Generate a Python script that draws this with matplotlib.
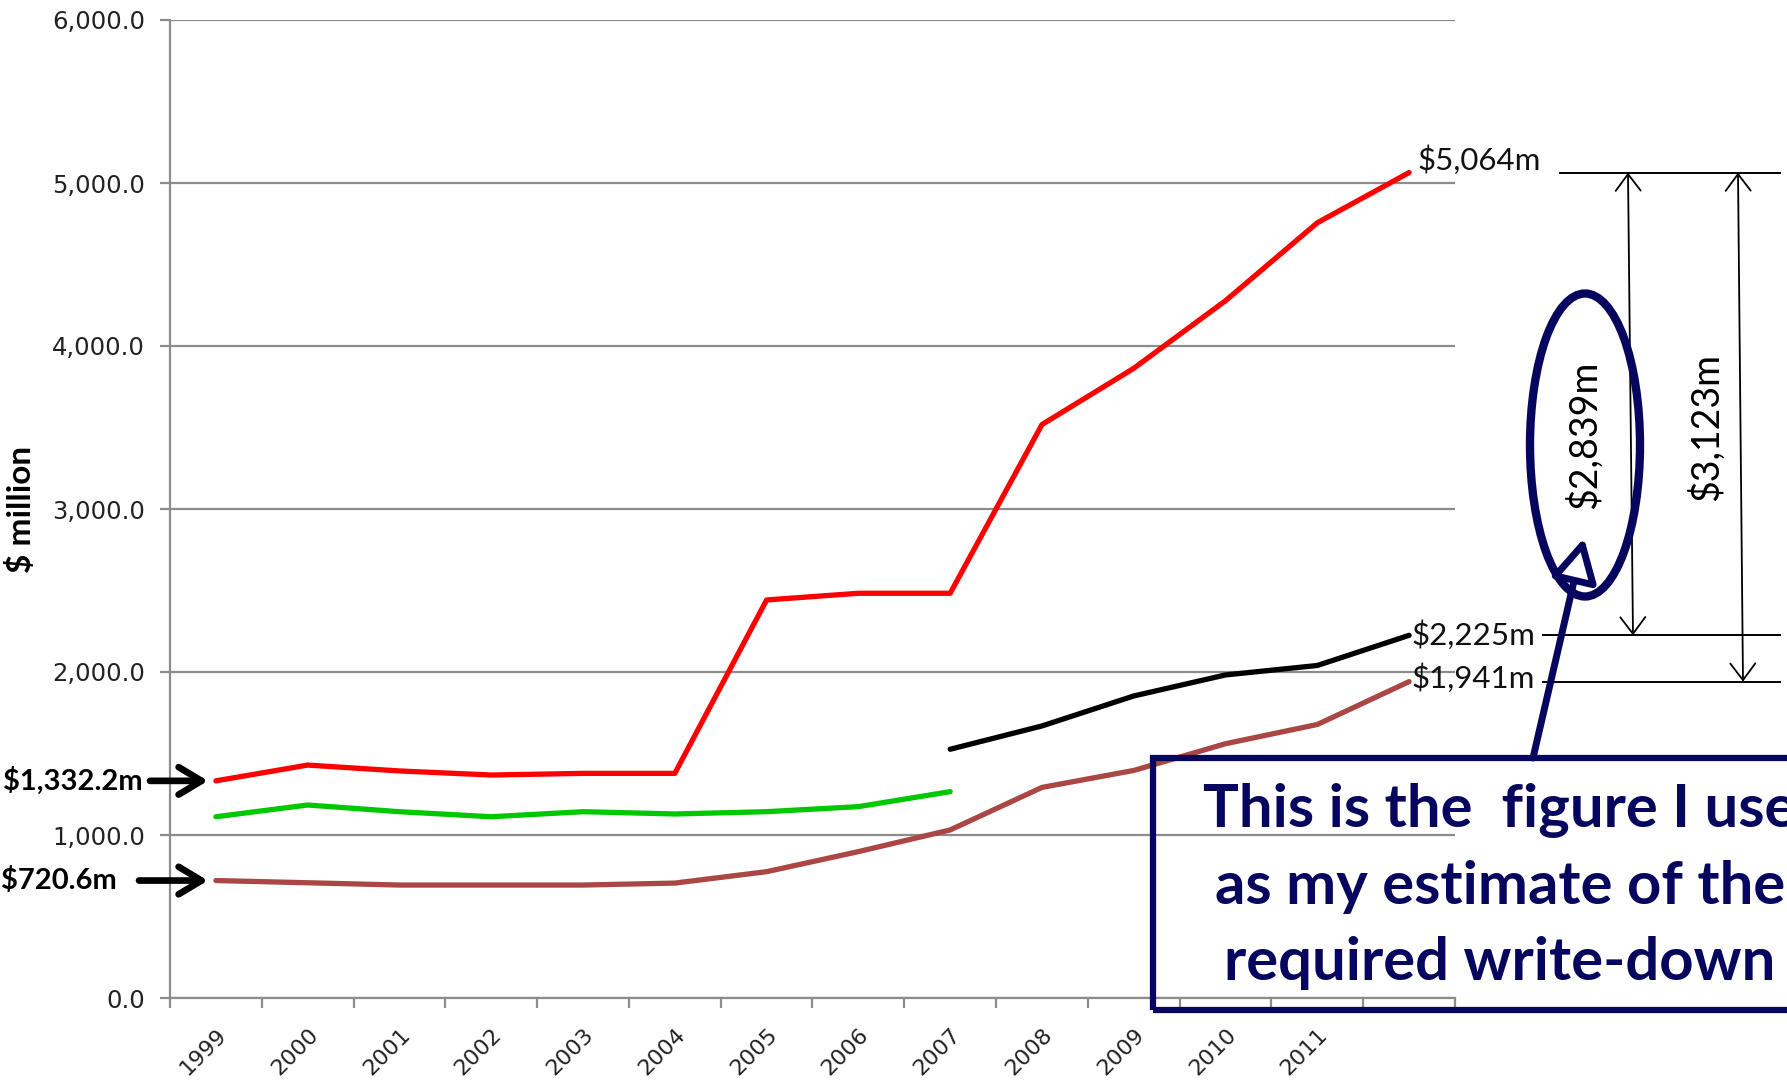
import numpy as np
import matplotlib
matplotlib.use('Agg')
import matplotlib.pyplot as plt
from matplotlib.patches import Ellipse, Rectangle, FancyArrowPatch
from matplotlib.transforms import blended_transform_factory

plt.rcParams['font.family'] = ['Lato', 'DejaVu Sans']

# yearly series, $ million (last slot is the latest figure)
years = ['1999', '2000', '2001', '2002', '2003', '2004', '2005',
         '2006', '2007', '2008', '2009', '2010', '2011', '']
red_vals = [1332.2, 1429, 1393, 1368, 1378, 1378, 2442,
            2483, 2483, 3518, 3863, 4278, 4756, 5064]
green_vals = [1112, 1184, 1143, 1112, 1143, 1129, 1143, 1174, 1266]
black_vals = [1526, 1669, 1853, 1982, 2040, 2225]
brown_vals = [720.6, 707, 693, 693, 693, 705, 775,
              898, 1031, 1292, 1396, 1560, 1678, 1941]
y_ticks = [0, 1000, 2000, 3000, 4000, 5000, 6000]

start_labels = ['$1,332.2m', '$720.6m']
end_labels = ['$5,064m', '$2,225m', '$1,941m']
gap_small = red_vals[-1] - black_vals[-1]
gap_large = red_vals[-1] - brown_vals[-1]
note = 'This is the  figure I use\nas my estimate of the\nrequired write-down'

navy = '#06065e'
grid_col = '#8c8c8c'

W, H = 1787, 1088
def fx(px):
    return px / W
def fy(py):
    return 1 - py / H

fig = plt.figure(figsize=(W / 100, H / 100), dpi=100)
ax = fig.add_axes([fx(170), fy(998), 1285 / W, 978 / H])

x = np.arange(len(years))
style = dict(lw=3.8, solid_joinstyle='round', solid_capstyle='round')
ax.plot(x, red_vals, color='#ff0000', **style)
ax.plot(x[:len(green_vals)], green_vals, color='#00c800', **style)
ax.plot(x[-len(black_vals):], black_vals, color='black', **style)
ax.plot(x, brown_vals, color='#aa4643', **style)

ax.set_xlim(-0.5, len(years) - 0.5)
ax.set_ylim(y_ticks[0], y_ticks[-1])

# axes, grid and ticks
for s in ['top', 'right']:
    ax.spines[s].set_visible(False)
for s in ['left', 'bottom']:
    ax.spines[s].set_color(grid_col)
    ax.spines[s].set_linewidth(1.6)
ax.set_yticks(y_ticks)
ax.set_yticklabels(['{:,.1f}'.format(v) for v in y_ticks],
                   fontfamily='DejaVu Sans')
ax.yaxis.grid(True, color=grid_col, lw=1.6)
ax.set_axisbelow(True)
ax.tick_params(axis='y', length=7, width=1.6, color=grid_col, pad=11,
               labelsize=17.5, labelcolor='#222222')

# year labels sit a little right of each category centre
ax.set_xticks(x + 0.08)
ax.set_xticklabels(years, rotation=45, ha='right', va='center',
                   rotation_mode='anchor', fontfamily='DejaVu Sans')
ax.set_xticks(np.arange(-0.5, len(years), 1), minor=True)
ax.tick_params(axis='x', which='major', length=0, pad=24, labelsize=16,
               labelcolor='#222222')
ax.tick_params(axis='x', which='minor', length=7, width=1.6, color=grid_col)

ax.set_ylabel('$ million', fontsize=24, fontweight='bold')
ax.yaxis.label.set_va('center')
ax.yaxis.set_label_coords(-149 / 1285, 0.5)

tb = blended_transform_factory(fig.transFigure, ax.transData)

# starting values on the left
for lab, val, txt_px, tail_px in zip(start_labels,
                                     [red_vals[0], brown_vals[0]],
                                     [143, 117], [150, 139]):
    ax.text(fx(txt_px), val, lab, transform=tb, ha='right', va='center',
            fontsize=21, fontweight='bold')
    ax.annotate('', xy=(fx(208), val), xytext=(fx(tail_px), val),
                xycoords=tb, textcoords=tb, annotation_clip=False,
                arrowprops=dict(arrowstyle='->,head_length=0.55,head_width=0.33',
                                mutation_scale=30, lw=4.8, color='black',
                                shrinkA=0, shrinkB=0))

# end values on the right
for lab, val, off in zip(end_labels,
                         [red_vals[-1], black_vals[-1], brown_vals[-1]],
                         [(6, 9), (2, 0), (2, 2.6)]):
    ax.annotate(lab, xy=(x[-1], val), xytext=off, textcoords='offset points',
                ha='left', va='center', fontsize=22.5, color='#111111',
                annotation_clip=False)

# dimension lines for the two gaps
for val, x0 in zip([red_vals[-1], black_vals[-1], brown_vals[-1]],
                   [1560, 1543, 1543]):
    ax.plot([fx(x0), fx(1780)], [val, val], transform=tb, color='black',
            lw=1.4, clip_on=False)

for xpx, low in zip([1628, 1738], [black_vals[-1], brown_vals[-1]]):
    arr = FancyArrowPatch((fx(xpx), red_vals[-1]), (fx(xpx + 5), low),
                          transform=tb, arrowstyle='<->,head_length=0.6,head_width=0.45',
                          mutation_scale=20, lw=1.3, color='black',
                          shrinkA=0, shrinkB=0, clip_on=False)
    fig.add_artist(arr)

fig.text(fx(1584), fy(435), '${:,.0f}m'.format(gap_small), rotation=90,
         ha='center', va='center', fontsize=27)
fig.text(fx(1706), fy(427), '${:,.0f}m'.format(gap_large), rotation=90,
         ha='center', va='center', fontsize=27)

# call-out: ellipse, pointer and note box
fig.add_artist(Ellipse((fx(1585), fy(445)), 110 / W, 303 / H,
                       transform=fig.transFigure, fill=False, ec=navy, lw=6))
fig.add_artist(FancyArrowPatch((fx(1533), fy(758)), (fx(1584), fy(538)),
                               transform=fig.transFigure,
                               arrowstyle='-|>,head_length=1.3,head_width=0.7',
                               mutation_scale=20, lw=5, ec=navy, fc='white',
                               shrinkA=0, shrinkB=0))
fig.add_artist(Rectangle((fx(1153), fy(1010)), (1847 - 1153) / W, 252 / H,
                         transform=fig.transFigure, fill=False, ec=navy, lw=4.5))
fig.text(fx(1500), fy(886), note, ha='center', va='center', fontsize=43,
         fontweight='bold', color=navy, linespacing=1.5)

fig.savefig('out.png', dpi=100)
